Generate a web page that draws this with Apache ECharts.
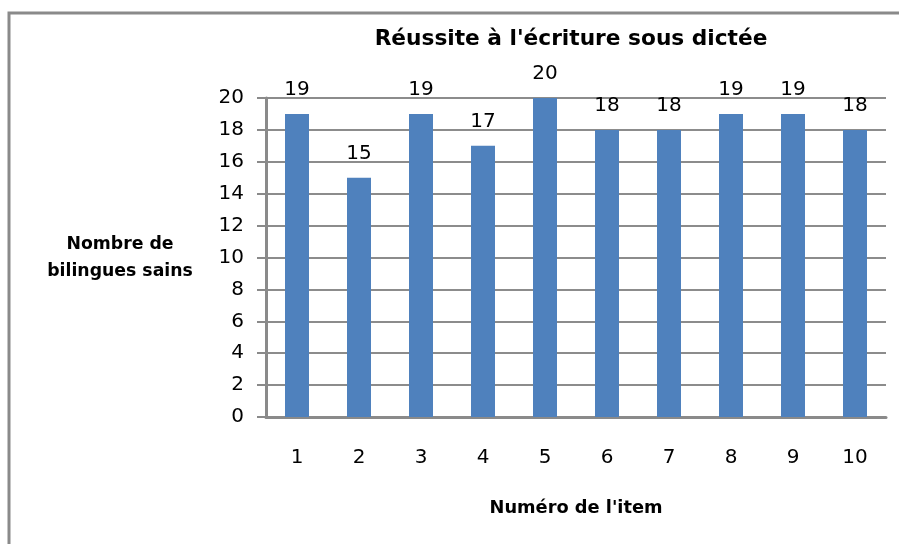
<!DOCTYPE html>
<html><head><meta charset="utf-8">
<script src="https://cdn.jsdelivr.net/npm/echarts@6/dist/echarts.min.js"></script>
<style>html,body{margin:0;padding:0;background:#fff}#c{width:899px;height:544px}</style>
</head><body><div id="c"></div>
<script>
const categories = ['1','2','3','4','5','6','7','8','9','10'];
const values = [19,15,19,17,20,18,18,19,19,18];
const titleText = "Réussite à l'écriture sous dictée";
const xName = "Numéro de l'item";
const yNameLines = ['Nombre de', 'bilingues sains'];
const FONT = 'DejaVu Sans';
const chart = echarts.init(document.getElementById('c'), null, {renderer:'canvas'});
chart.setOption({
  animation:false,
  backgroundColor:'#fff',
  title:{text:titleText,left:566,top:23,textAlign:'center',textStyle:{fontFamily:FONT,fontWeight:'bold',fontSize:21.7,color:'#000'}},
  grid:{left:266,right:13,top:98,bottom:127,containLabel:false},
  graphic:[
    {type:'rect',shape:{x:9,y:13,width:900,height:560},style:{fill:null,stroke:'#8a8a8a',lineWidth:3},z:-1},
    {type:'text',x:120,y:258,style:{text:yNameLines.join('\n'),align:'center',verticalAlign:'middle',lineHeight:27,fontFamily:FONT,fontWeight:'bold',fontSize:17.3,fill:'#000'}}
  ],
  xAxis:{type:'category',data:categories,
    name:xName,nameLocation:'middle',nameGap:82,
    nameTextStyle:{fontFamily:FONT,fontWeight:'bold',fontSize:17.8,color:'#000'},
    axisLine:{lineStyle:{color:'#8a8a8a',width:3}},
    axisTick:{show:false},
    axisLabel:{margin:31,fontFamily:FONT,fontSize:20,color:'#000'}},
  yAxis:{type:'value',min:0,max:20,interval:2,
    axisLine:{show:true,lineStyle:{color:'#8a8a8a',width:3}},
    axisTick:{show:true,length:9,lineStyle:{color:'#8a8a8a',width:2}},
    splitLine:{lineStyle:{color:'#8c8c8c',width:2}},
    axisLabel:{margin:22,fontFamily:FONT,fontSize:20,color:'#000'}},
  series:[{type:'bar',data:values,barWidth:24,
    itemStyle:{color:'#4f81bd'},
    label:{show:true,position:'top',distance:14,fontFamily:FONT,fontSize:20,color:'#000'}}]
});
</script></body></html>
